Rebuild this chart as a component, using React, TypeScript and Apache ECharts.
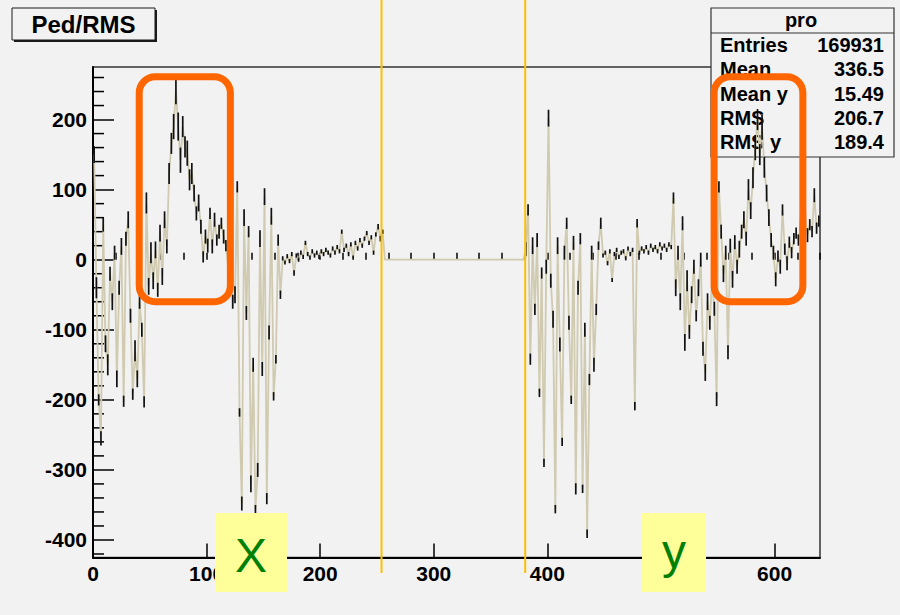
import React, { useEffect, useRef } from 'react';
import * as echarts from 'echarts';

// ---- Profile data (bin centres start at leftStart / rightStart, step binStep) ----
const binStep = 2;
const leftStart = 1;
const leftY = [
  150, -40, -200, -255, 50, -120, -150, -20, -60, 10,
  -170, -40, 19, -202, 30, 57, -80, -192, -130, -170,
  -60, -100, -203, 81, -38, 10, -30, 14, -43, 38,
  -24, 57, 19, 123, 166, 190, 242, 190, 142, 190,
  161, 152, 114, 123, 95, 66, 81, 47, 4, 33,
  20, 66, 19, 57, 28, 40, 52, 33, 20, -10,
  30, -60, -50, 104, -218, -348, 60, -76, 40, -320,
  -150, -356, -300, 30, -156, 90, -341, -104, 62, -195,
  -142, 28, -50, 2, -4, 5, -2, 8, -19, 6,
  0, 10, 4, 24, 8, 3, 12, 6, 10, 4,
  12, 8, 14, 10, 6, 16, 10, 18, 12, 40,
  14, 20, 8, 22, 3, 24, 16, 28, 20, 30,
  38, 24, 32, 10, 36, 47, 30, 40,
];
const leftErr = [
  12, 15, 8, 10, 10, 12, 15, 10, 12, 10,
  12, 10, 12, 8, 10, 12, 10, 8, 15, 12,
  10, 10, 8, 15, 12, 15, 12, 12, 10, 12,
  12, 12, 10, 15, 15, 18, 20, 20, 18, 15,
  15, 18, 15, 15, 12, 10, 12, 10, 8, 10,
  10, 8, 10, 10, 8, 10, 8, 10, 8, 8,
  10, 10, 12, 8, 6, 10, 12, 10, 8, 12,
  10, 6, 10, 12, 10, 12, 8, 10, 12, 6,
  6, 8, 6, 3, 3, 3, 3, 3, 4, 3,
  3, 3, 3, 3, 3, 3, 3, 3, 3, 3,
  3, 3, 3, 3, 3, 3, 3, 3, 3, 3,
  3, 3, 3, 3, 3, 3, 3, 3, 3, 3,
  3, 3, 3, 3, 3, 4, 4, 3,
];
// empty bins between the two halves (content 0)
const emptyBins = [257, 379];
const rightStart = 381;
const rightY = [
  15, 71, -142, 20, -71, 28, -190, -19, -290, -10,
  202, -30, -85, -356, 20, -121, -260, 10, 52, -90,
  -200, 24, -327, -40, 30, -327, -100, -391, -171, 10,
  -150, -71, 20, 52, 6, 10, -5, 12, -29, 8,
  14, 4, 10, 12, 2, 16, 8, 14, -209, 52,
  10, 16, 12, 18, 10, 20, 14, 18, 12, 22,
  16, 20, 14, 22, 18, 88, -40, 10, -60, 52,
  -118, -30, -103, -50, -10, -80, -40, 0, -127, -161,
  -60, -90, -30, -70, -199, 104, 40, -20, 10, -132,
  20, -28, 25, -10, 15, 40, 57, 30, 100, 70,
  117, 160, 200, 150, 189, 132, 95, 60, 28, 10,
  -28, 5, -10, 71, 15, -5, 25, 10, 30, 38,
  28, 50, 42, 60, 35, 50, 40, 92, 45, 55,
];
const rightErr = [
  10, 8, 8, 12, 8, 10, 6, 8, 6, 10,
  12, 10, 12, 6, 12, 10, 6, 10, 8, 10,
  6, 10, 8, 10, 8, 6, 10, 6, 8, 10,
  10, 8, 6, 8, 3, 3, 3, 3, 3, 3,
  3, 3, 3, 3, 3, 3, 3, 3, 6, 6,
  3, 3, 3, 3, 3, 3, 3, 3, 3, 3,
  3, 3, 3, 3, 3, 8, 12, 10, 12, 10,
  12, 15, 10, 12, 10, 8, 12, 10, 10, 12,
  12, 10, 12, 10, 10, 8, 10, 12, 10, 10,
  10, 12, 10, 10, 12, 10, 12, 10, 15, 12,
  15, 18, 15, 15, 18, 15, 12, 12, 10, 10,
  10, 8, 10, 8, 8, 10, 8, 8, 8, 8,
  8, 8, 8, 8, 10, 8, 8, 10, 8, 8,
];

// ---- Axes ----
const xMin = 0;
const xMax = 640;
const yMin = -425;
const yMax = 275;

// ---- Texts ----
const histTitle = 'Ped/RMS';
const statTitle = 'pro';
const statLabels = ['Entries', 'Mean', 'Mean y', 'RMS', 'RMS y'];
const statValues = ['169931', '336.5', '15.49', '206.7', '189.4'];

// ---- Annotations (data units) ----
const dividerX = [254, 380.5];
const highlightBoxes = [
  { x0: 37.6, x1: 124, y0: -65, y1: 266 },
  { x0: 543.7, x1: 628, y0: -65, y1: 266 },
];
const axisLetters = ['X', 'y'];

const FONT = '"Liberation Sans", Arial, Helvetica, sans-serif';
const BG = '#f2f2f2';

export default function App() {
  const ref = useRef<HTMLDivElement>(null);

  useEffect(() => {
    const chart = echarts.init(ref.current as HTMLDivElement, null, { renderer: 'svg' });

    const leftPts = leftY.map((y, i) => [leftStart + i * binStep, y]);
    const rightPts = rightY.map((y, i) => [rightStart + i * binStep, y]);
    const linePts = [...leftPts, ...emptyBins.map((x) => [x, 0]), ...rightPts];
    const errPts = [
      ...leftY.map((y, i) => [leftStart + i * binStep, y, leftErr[i]]),
      ...rightY.map((y, i) => [rightStart + i * binStep, y, rightErr[i]]),
    ];
    const yMinor: number[][] = [];
    for (let v = Math.ceil(yMin / 20) * 20; v <= yMax; v += 20) {
      if (v % 100 !== 0) yMinor.push([xMin, v]);
    }

    const option: any = {
      animation: false,
      backgroundColor: BG,
      grid: {
        left: 93,
        right: 80,
        top: 67,
        bottom: 57.5,
        show: true,
        borderColor: '#333',
        borderWidth: 1.5,
        backgroundColor: 'transparent',
        containLabel: false,
        outerBoundsMode: 'none',
      },
      xAxis: [
        {
          type: 'value',
          min: xMin,
          max: xMax,
          interval: 100,
          position: 'bottom',
          axisLine: { show: true, onZero: false, lineStyle: { color: '#000', width: 2 } },
          axisTick: { show: true, inside: true, length: 14, lineStyle: { color: '#000', width: 1.5 } },
          axisLabel: {
            show: true,
            showMaxLabel: false,
            margin: 5,
            color: '#000',
            fontSize: 21,
            fontWeight: 'bold',
            fontFamily: FONT,
          },
          splitLine: { show: false },
        },
        {
          type: 'value',
          min: xMin,
          max: xMax,
          interval: 20,
          position: 'bottom',
          axisLine: { show: false },
          axisTick: { show: true, inside: true, length: 7, lineStyle: { color: '#000', width: 1.5 } },
          axisLabel: { show: false },
          splitLine: { show: false },
        },
      ],
      yAxis: {
        type: 'value',
        min: yMin,
        max: yMax,
        splitNumber: 7,
        axisLine: { show: true, onZero: false, lineStyle: { color: '#000', width: 2 } },
        axisTick: { show: true, inside: true, length: 21, lineStyle: { color: '#000', width: 1.5 } },
        axisLabel: {
          show: true,
          showMinLabel: false,
          showMaxLabel: false,
          margin: 6,
          color: '#000',
          fontSize: 21,
          fontWeight: 'bold',
          fontFamily: FONT,
        },
        splitLine: { show: false },
      },
      series: [
        {
          type: 'line',
          data: linePts,
          xAxisIndex: 0,
          yAxisIndex: 0,
          symbol: 'none',
          showSymbol: false,
          lineStyle: { color: '#cfcab0', width: 1.8 },
          z: 10,
          silent: true,
        },
        {
          type: 'custom',
          data: errPts,
          xAxisIndex: 0,
          yAxisIndex: 0,
          encode: { x: 0, y: 1 },
          z: 11,
          silent: true,
          renderItem: (_params: any, api: any) => {
            const x = api.value(0);
            const y = api.value(1);
            const e = api.value(2);
            const p1 = api.coord([x, y + e]);
            const p2 = api.coord([x, y - e]);
            return {
              type: 'line',
              shape: { x1: p1[0], y1: p1[1], x2: p2[0], y2: p2[1] },
              style: { stroke: '#111', lineWidth: 1.7 },
            };
          },
        },
        {
          type: 'custom',
          data: yMinor,
          xAxisIndex: 0,
          yAxisIndex: 0,
          encode: { x: 0, y: 1 },
          clip: false,
          z: 3,
          silent: true,
          renderItem: (_params: any, api: any) => {
            const p = api.coord([api.value(0), api.value(1)]);
            return {
              type: 'line',
              shape: { x1: p[0], y1: p[1], x2: p[0] + 11, y2: p[1] },
              style: { stroke: '#000', lineWidth: 1.5 },
            };
          },
        },
      ],
    };

    chart.setOption(option);

    const toPx = (x: number, y: number) => chart.convertToPixel({ gridIndex: 0 }, [x, y]) as number[];

    const elements: any[] = [];

    // Title box
    elements.push({ type: 'rect', z: 50, shape: { x: 14, y: 10, width: 143, height: 32 }, style: { fill: '#1a1a1a' } });
    elements.push({ type: 'rect', z: 51, shape: { x: 12, y: 8, width: 143, height: 32 }, style: { fill: BG, stroke: '#1a1a1a', lineWidth: 1 } });
    elements.push({
      type: 'text', z: 52, x: 83.5, y: 24,
      style: { text: histTitle, font: `bold 24px ${FONT}`, fill: '#000', textAlign: 'center', textVerticalAlign: 'middle', align: 'center', verticalAlign: 'middle' },
    });

    // Stats box (under the data)
    const sbX = 711, sbY = 8, sbW = 183, sbH = 149;
    elements.push({ type: 'rect', z: 5, shape: { x: sbX, y: sbY, width: sbW, height: sbH }, style: { fill: BG, stroke: '#333', lineWidth: 1.2 } });
    elements.push({ type: 'line', z: 6, shape: { x1: sbX, y1: 33, x2: sbX + sbW, y2: 33 }, style: { stroke: '#333', lineWidth: 1.2 } });
    elements.push({
      type: 'text', z: 6, x: 801, y: 20,
      style: { text: statTitle, font: `bold 20px ${FONT}`, fill: '#000', textAlign: 'center', textVerticalAlign: 'middle', align: 'center', verticalAlign: 'middle' },
    });
    statLabels.forEach((lab, i) => {
      const cy = 45 + i * 24.3;
      elements.push({
        type: 'text', z: 6, x: 720, y: cy,
        style: { text: lab, font: `bold 20px ${FONT}`, fill: '#000', textAlign: 'left', textVerticalAlign: 'middle', align: 'left', verticalAlign: 'middle' },
      });
      elements.push({
        type: 'text', z: 6, x: 884, y: cy,
        style: { text: statValues[i], font: `bold 20px ${FONT}`, fill: '#000', textAlign: 'right', textVerticalAlign: 'middle', align: 'right', verticalAlign: 'middle' },
      });
    });

    // Orange divider lines
    dividerX.forEach((dx) => {
      const p = toPx(dx, 0);
      elements.push({ type: 'line', z: 100, shape: { x1: p[0], y1: 0, x2: p[0], y2: 573 }, style: { stroke: '#ffbf00', lineWidth: 2 } });
    });

    // Orange highlight boxes
    const sw = 7;
    highlightBoxes.forEach((b) => {
      const a = toPx(b.x0, b.y1);
      const c = toPx(b.x1, b.y0);
      elements.push({
        type: 'rect', z: 100,
        shape: { x: a[0] + sw / 2, y: a[1] + sw / 2, width: c[0] - a[0] - sw, height: c[1] - a[1] - sw, r: 16 },
        style: { fill: 'none', stroke: '#ff6600', lineWidth: sw },
      });
    });

    // Yellow label boxes
    const letterBoxes = [
      { x: 215, y: 513, w: 72, h: 79, cx: 251, cy: 555 },
      { x: 642, y: 513, w: 64, h: 79, cx: 674, cy: 551 },
    ];
    letterBoxes.forEach((b, i) => {
      elements.push({ type: 'rect', z: 110, shape: { x: b.x, y: b.y, width: b.w, height: b.h }, style: { fill: '#ffff99' } });
      elements.push({
        type: 'text', z: 111, x: b.cx, y: b.cy,
        style: { text: axisLetters[i], font: `48px ${FONT}`, fill: '#008000', textAlign: 'center', textVerticalAlign: 'middle', align: 'center', verticalAlign: 'middle' },
      });
    });

    chart.setOption({ graphic: elements });

    return () => {
      chart.dispose();
    };
  }, []);

  return <div ref={ref} style={{ position: 'absolute', left: 0, top: 0, width: 900, height: 615 }} />;
}
